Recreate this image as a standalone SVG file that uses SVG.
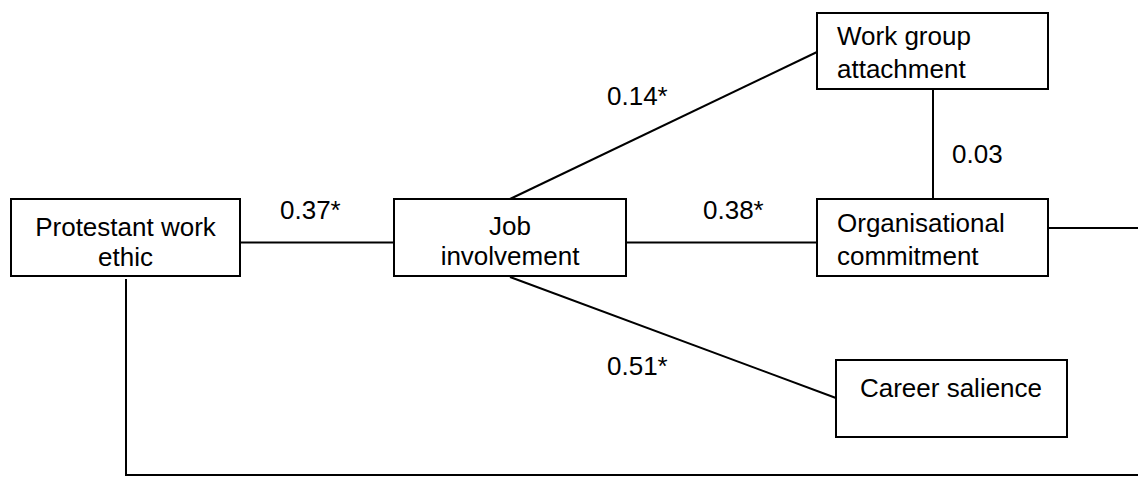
<svg xmlns="http://www.w3.org/2000/svg" width="1138" height="477" viewBox="0 0 1138 477">
<style>
.box{fill:#fff;stroke:#000;stroke-width:2}
.ln{fill:none;stroke:#000;stroke-width:2}
text{font-family:"Liberation Sans",Arial,sans-serif;font-size:26px;fill:#000}
.c{text-anchor:middle}
</style>
<rect width="1138" height="477" fill="#fff"/>
<g id="connectors">
<line class="ln" x1="240" y1="242.5" x2="394" y2="242.5"/>
<line class="ln" x1="626" y1="242.5" x2="817" y2="242.5"/>
<line class="ln" x1="510" y1="199" x2="817" y2="52"/>
<line class="ln" x1="510" y1="277" x2="836" y2="398"/>
<line class="ln" x1="933" y1="89" x2="933" y2="205"/>
<line class="ln" x1="1048" y1="228" x2="1138" y2="228"/>
<polyline class="ln" points="126,279 126,475 1138,475"/>
<text x="280" y="219">0.37*</text>
<text x="703" y="219">0.38*</text>
<text x="607" y="105">0.14*</text>
<text x="607" y="375">0.51*</text>
<text x="952" y="163">0.03</text>
</g>
<g id="protestant">
<rect class="box" x="11" y="199" width="229" height="77"/>
<text class="c" x="125.5" y="236">Protestant work</text>
<text class="c" x="125.5" y="266">ethic</text>
</g>
<g id="job">
<rect class="box" x="394" y="199" width="232" height="77"/>
<text class="c" x="510" y="235">Job</text>
<text class="c" x="510" y="265">involvement</text>
</g>
<g id="workgroup">
<rect class="box" x="817" y="13" width="231" height="76"/>
<text x="837" y="45">Work group</text>
<text x="837" y="78">attachment</text>
</g>
<g id="organisational">
<rect class="box" x="817" y="199" width="231" height="77"/>
<text x="837" y="232">Organisational</text>
<text x="837" y="265">commitment</text>
</g>
<g id="career">
<rect class="box" x="836" y="360" width="231" height="77"/>
<text class="c" x="951" y="397">Career salience</text>
</g>
</svg>
